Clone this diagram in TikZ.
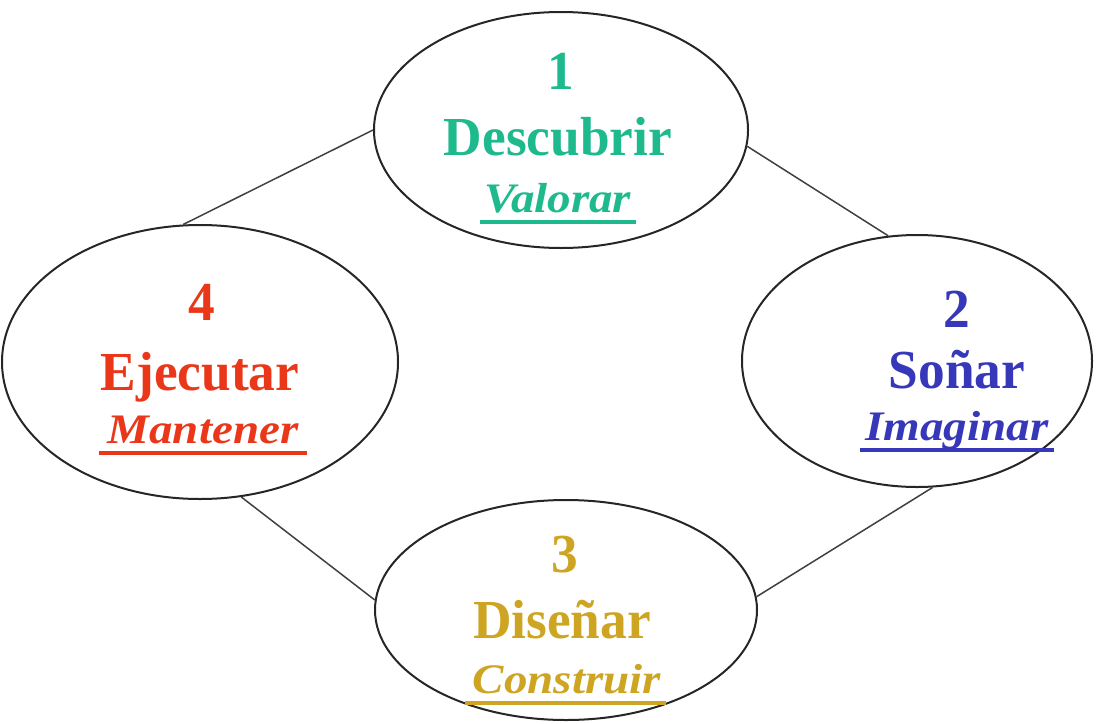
\documentclass[tikz,border=0pt]{standalone}
\usepackage{fontspec}
\setmainfont{Liberation Serif}
\newfontfamily\stagefont[FakeStretch=0.97]{Liberation Serif}
\newfontfamily\actfont[FakeStretch=1.12]{Liberation Serif}
\usetikzlibrary{shapes.geometric}

\definecolor{descubrir}{RGB}{30,185,140}
\definecolor{sonar}{RGB}{55,55,185}
\definecolor{disenar}{RGB}{205,165,35}
\definecolor{ejecutar}{RGB}{235,55,25}

\tikzset{
  stage/.style={ellipse, draw=black!85, line width=2pt, inner sep=0pt},
  link/.style={draw=black!75, line width=1.5pt},
  num/.style={anchor=base, inner sep=0pt, font=\stagefont\bfseries\fontsize{55}{60}\selectfont},
  word/.style={anchor=base, inner sep=0pt, font=\stagefont\bfseries\fontsize{55}{60}\selectfont},
  act/.style={anchor=base, inner sep=0pt, font=\actfont\bfseries\itshape\fontsize{42}{46}\selectfont},
  uline/.style={line width=4.5pt}
}

\begin{document}
\begin{tikzpicture}[x=1pt,y=-1pt]
\useasboundingbox (0,0) rectangle (1097,723);

% the four stages
\node[stage, minimum width=374pt, minimum height=236pt] (e1) at (561,130) {};
\node[stage, minimum width=350pt, minimum height=252pt] (e2) at (917,361) {};
\node[stage, minimum width=382pt, minimum height=220pt] (e3) at (566,610) {};
\node[stage, minimum width=396pt, minimum height=274pt] (e4) at (200,362) {};

% links round the cycle
\draw[link] (e1.-5) -- (e2.103);
\draw[link] (e2.-83) -- (e3.4);
\draw[link] (e3.177) -- (e4.-73);
\draw[link] (e4.97) -- (e1.180);

% 1
\node[num, text=descubrir] (n1) at (561,89) {1};
\node[word, text=descubrir] (w1) at (558,155) {Descubrir};
\node[act, text=descubrir] (a1) at (558,212) {Valorar};
\draw[uline, descubrir] ([xshift=-5pt,yshift=-10pt]a1.base west) -- ([xshift=5pt,yshift=-10pt]a1.base east);

% 2
\node[num, text=sonar] (n2) at (957,327) {2};
\node[word, text=sonar] (w2) at (957,388) {Soñar};
\node[act, text=sonar] (a2) at (957,440) {Imaginar};
\draw[uline, sonar] ([xshift=-5pt,yshift=-10pt]a2.base west) -- ([xshift=5pt,yshift=-10pt]a2.base east);

% 3
\node[num, text=disenar] (n3) at (565,572) {3};
\node[word, text=disenar] (w3) at (562,638) {Diseñar};
\node[act, text=disenar] (a3) at (567,693) {Construir};
\draw[uline, disenar] ([xshift=-8pt,yshift=-10pt]a3.base west) -- ([xshift=5pt,yshift=-10pt]a3.base east);

% 4
\node[num, text=ejecutar] (n4) at (202,320) {4};
\node[word, text=ejecutar] (w4) at (200,390) {Ejecutar};
\node[act, text=ejecutar] (a4) at (203,443) {Mantener};
\draw[uline, ejecutar] ([xshift=-8pt,yshift=-10pt]a4.base west) -- ([xshift=8pt,yshift=-10pt]a4.base east);
\end{tikzpicture}
\end{document}
